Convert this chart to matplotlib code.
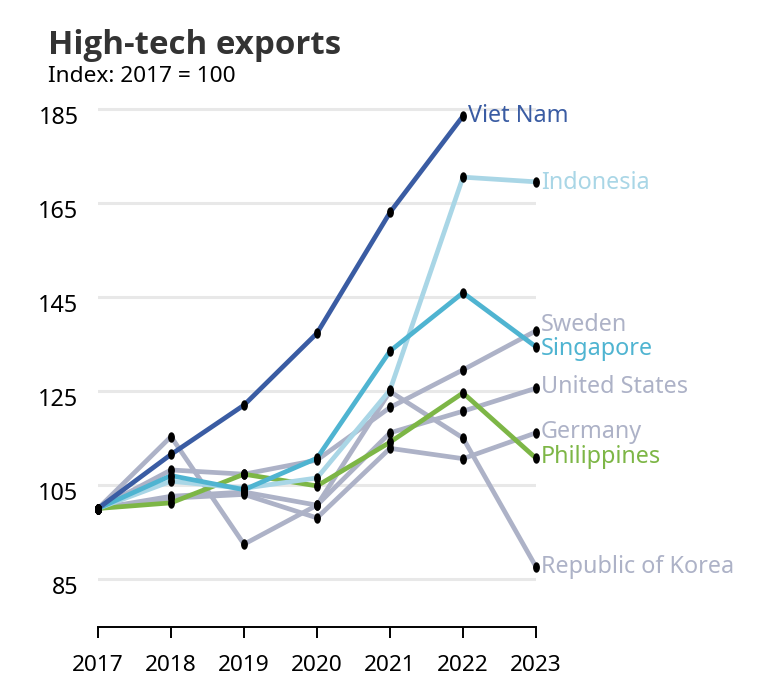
import matplotlib
matplotlib.use("Agg")
import matplotlib.pyplot as plt
from matplotlib.path import Path
from matplotlib.transforms import ScaledTranslation
import numpy as np

plt.rcParams['font.family'] = ['Noto Sans', 'DejaVu Sans']

years = [2017, 2018, 2019, 2020, 2021, 2022, 2023]
viet_nam = [100, 111.5, 122.0, 137.3, 163.0, 183.5]
indonesia = [100, 105.8, 104.3, 106.5, 125.2, 170.5, 169.5]
singapore = [100, 107.0, 104.0, 110.7, 133.5, 145.9, 134.4]
sweden = [100, 108.2, 107.3, 110.3, 121.5, 129.5, 137.8]
united_states = [100, 102.6, 103.5, 100.7, 116.1, 120.7, 125.6]
germany = [100, 102.2, 103.0, 98.0, 112.8, 110.6, 116.1]
philippines = [100, 101.2, 107.3, 104.8, 114.1, 124.6, 110.7]
korea = [100, 115.3, 92.4, 100.7, 124.9, 115.0, 87.6]
y_ticks = [85, 105, 125, 145, 165, 185]

GRAY = '#adb2c7'
series = [
    ("Republic of Korea", korea, GRAY, 0),
    ("Germany", germany, GRAY, 1),
    ("United States", united_states, GRAY, 1),
    ("Sweden", sweden, GRAY, 6),
    ("Philippines", philippines, '#7db646', 1),
    ("Indonesia", indonesia, '#a9d6e6', -1),
    ("Singapore", singapore, '#4fb4d1', -2),
    ("Viet Nam", viet_nam, '#3a5ca3', 0),
]

fig = plt.figure(figsize=(7.58, 6.95), dpi=100)
W, H = 758, 695
left, right = 98, 536
bottom_px, top_px = 627, 100
ax = fig.add_axes([left / W, (H - bottom_px) / H, (right - left) / W, (bottom_px - top_px) / H])

ppu = 4.7
ymin = 85 - (bottom_px - 579) / ppu
ymax = 185 + (109 - top_px) / ppu
ax.set_xlim(2017, 2023)
ax.set_ylim(ymin, ymax)

t = np.linspace(0, 2 * np.pi, 40)
ell = Path(np.column_stack([0.6 * np.cos(t), np.sin(t)]), closed=True)

for i, (name, vals, col, nudge) in enumerate(series):
    xs = years[:len(vals)]
    ax.plot(xs, vals, color=col, lw=3.4, solid_capstyle='butt', solid_joinstyle='miter',
            zorder=3 + i, clip_on=False)
for i, (name, vals, col, nudge) in enumerate(series):
    xs = years[:len(vals)]
    ax.plot(xs, vals, ls='none', marker=ell, ms=6.5, color='black', zorder=20, clip_on=False)
    off = ScaledTranslation(5 / 100, nudge / 100, fig.dpi_scale_trans)
    ax.text(xs[-1], vals[-1], name, color=col, fontsize=16.8, ha='left', va='center',
            transform=ax.transData + off, clip_on=False, zorder=25)

for yv in y_ticks:
    ax.axhline(yv, color='#e8e8e8', lw=2.2, zorder=1)

ax.set_yticks(y_ticks)
ax.set_yticklabels([str(v) for v in y_ticks])
ax.tick_params(axis='y', length=0, pad=14, labelsize=16.8, colors='black')
for lab in ax.get_yticklabels():
    lab.set_transform(lab.get_transform() + ScaledTranslation(0, -6 / 100, fig.dpi_scale_trans))

ax.set_xticks(years)
ax.set_xticklabels([str(y) for y in years])
ax.tick_params(axis='x', length=8, width=1.4, pad=12, labelsize=16.3, direction='out')

for s in ['top', 'right', 'left']:
    ax.spines[s].set_visible(False)
ax.spines['bottom'].set_linewidth(1.4)
ax.spines['bottom'].set_color('black')

fig.text(48 / W, 1 - 45 / H, "High-tech exports", fontsize=23.8, fontweight='bold', color='#333333',
         ha='left', va='center', family=['Open Sans', 'DejaVu Sans'])
fig.text(48 / W, 1 - 77 / H, "Index: 2017 = 100", fontsize=16.3, color='black', ha='left', va='center')

fig.savefig("out.png", dpi=100)
